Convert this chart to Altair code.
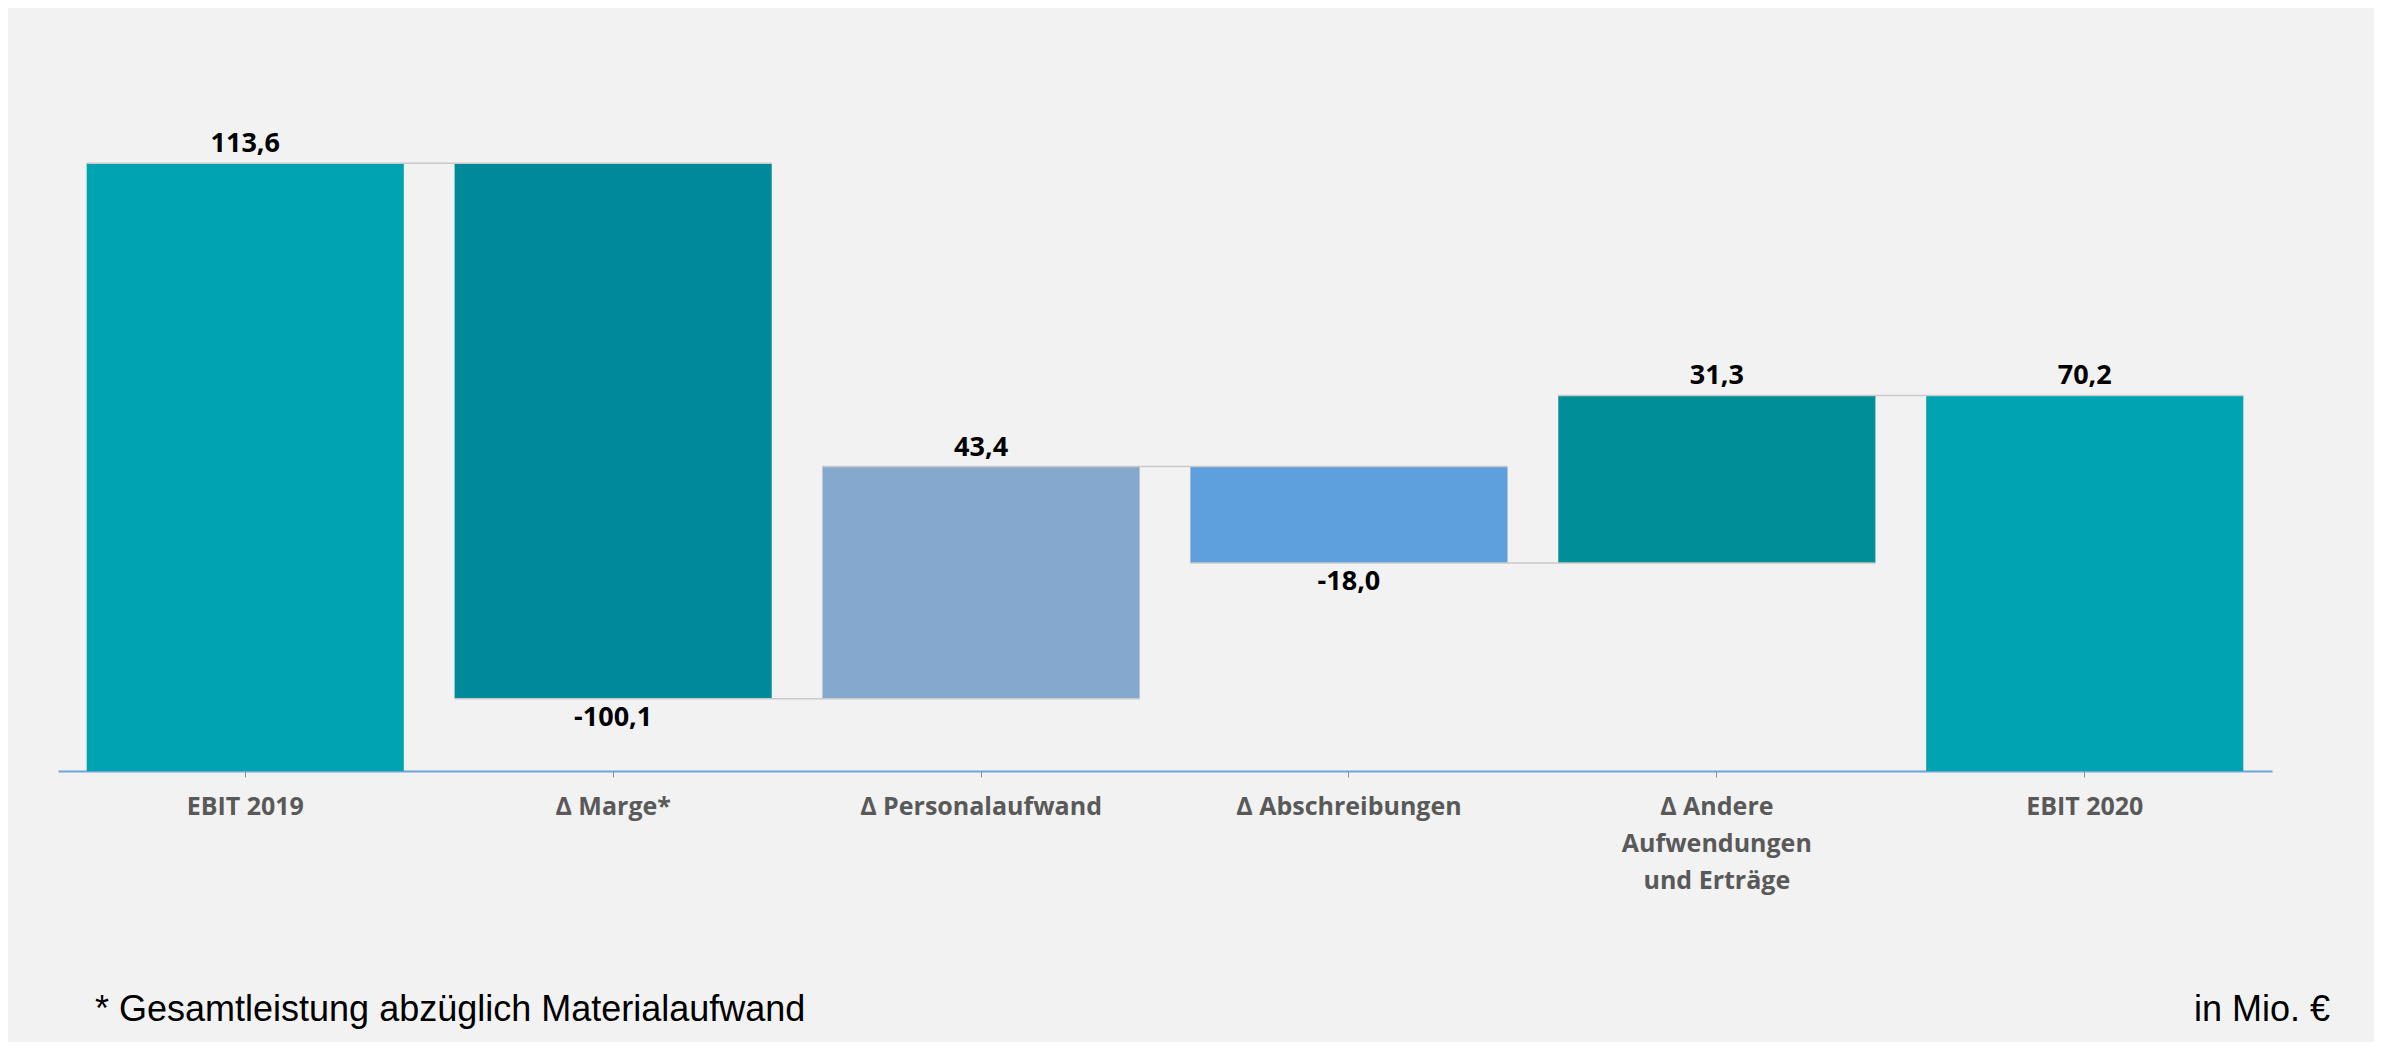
import altair as alt
import pandas as pd

# ---- data ----
categories = ["EBIT 2019", "Δ Marge*", "Δ Personalaufwand", "Δ Abschreibungen",
              "Δ Andere|Aufwendungen|und Erträge", "EBIT 2020"]
values = [113.6, -100.1, 43.4, -18.0, 31.3, 70.2]
is_total = [True, False, False, False, False, True]
value_labels = ["113,6", "-100,1", "43,4", "-18,0", "31,3", "70,2"]
footnote = "* Gesamtleistung abzüglich Materialaufwand"
unit_note = "in Mio. €"

# ---- styles ----
bar_colors = ["#00A3B1", "#00899A", "#85A8CE", "#5E9FDD", "#008E99", "#00A3B1"]

# ---- waterfall table ----
rows = []
running = 0.0
for cat, v, tot, lab in zip(categories, values, is_total, value_labels):
    if tot:
        start, end = 0.0, v
    else:
        start, end = running, running + v
    running = end
    rows.append({
        "cat": cat, "start": start, "end": end, "label": lab,
        "label_y": max(start, end) if v >= 0 else min(start, end),
        "side": "top" if v >= 0 else "bottom",
    })
df = pd.DataFrame(rows)

conn = pd.DataFrame([
    {"cat": categories[i], "next": categories[i + 1], "level": rows[i]["end"]}
    for i in range(len(categories) - 1)
])

x_scale = alt.Scale(domain=categories, paddingInner=0.138, paddingOuter=0.078)
y_scale = alt.Scale(domain=[0, 120], nice=False, zero=True)

x_axis = alt.Axis(
    title=None, labelExpr="split(datum.label, '|')", labelAngle=0,
    labelFont="Open Sans", labelFontWeight="bold", labelFontSize=25,
    labelColor="#595959", labelLineHeight=37, labelPadding=17,
    labelBaseline="top", labelLimit=0,
    domainColor="#6FA3D8", domainWidth=2,
    tickColor="#8a8a8a", tickSize=6, tickWidth=1, grid=False,
)

bars = alt.Chart(df).mark_bar().encode(
    x=alt.X("cat:N", sort=categories, scale=x_scale, axis=x_axis),
    y=alt.Y("start:Q", scale=y_scale, axis=None),
    y2="end:Q",
    color=alt.Color("cat:N", scale=alt.Scale(domain=categories, range=bar_colors), legend=None),
)

connectors = alt.Chart(conn).mark_rule(color="#c9c9c9", strokeWidth=1.5).encode(
    x=alt.X("cat:N", sort=categories, scale=x_scale, bandPosition=0),
    x2=alt.X2("next:N", bandPosition=1),
    y=alt.Y("level:Q", scale=y_scale),
)

text_common = dict(font="Open Sans", fontWeight="bold", fontSize=27, color="#000000")
labels_top = alt.Chart(df).transform_filter("datum.side == 'top'").mark_text(
    baseline="bottom", dy=-5, **text_common
).encode(
    x=alt.X("cat:N", sort=categories, scale=x_scale),
    y=alt.Y("label_y:Q", scale=y_scale),
    text="label:N",
)
labels_bottom = alt.Chart(df).transform_filter("datum.side == 'bottom'").mark_text(
    baseline="top", dy=6, **text_common
).encode(
    x=alt.X("cat:N", sort=categories, scale=x_scale),
    y=alt.Y("label_y:Q", scale=y_scale),
    text="label:N",
)

foot_left = alt.Chart(pd.DataFrame({"t": [footnote]})).mark_text(
    align="left", baseline="alphabetic", font="Liberation Sans", fontSize=36, color="#000000"
).encode(x=alt.value(37), y=alt.value(892), text="t:N")

foot_right = alt.Chart(pd.DataFrame({"t": [unit_note]})).mark_text(
    align="right", baseline="alphabetic", font="Liberation Sans", fontSize=36, color="#000000"
).encode(x=alt.value(2272), y=alt.value(892), text="t:N")

chart = alt.layer(bars, connectors, labels_top, labels_bottom, foot_left, foot_right).properties(
    width=2214, height=642,
    background="#F2F2F2",
    padding={"left": 50, "right": 102, "top": 121, "bottom": 271},
    autosize=alt.AutoSizeParams(type="none"),
).configure_view(stroke=None)

chart.save("out.html", embed_options={"renderer": "svg", "actions": False})
